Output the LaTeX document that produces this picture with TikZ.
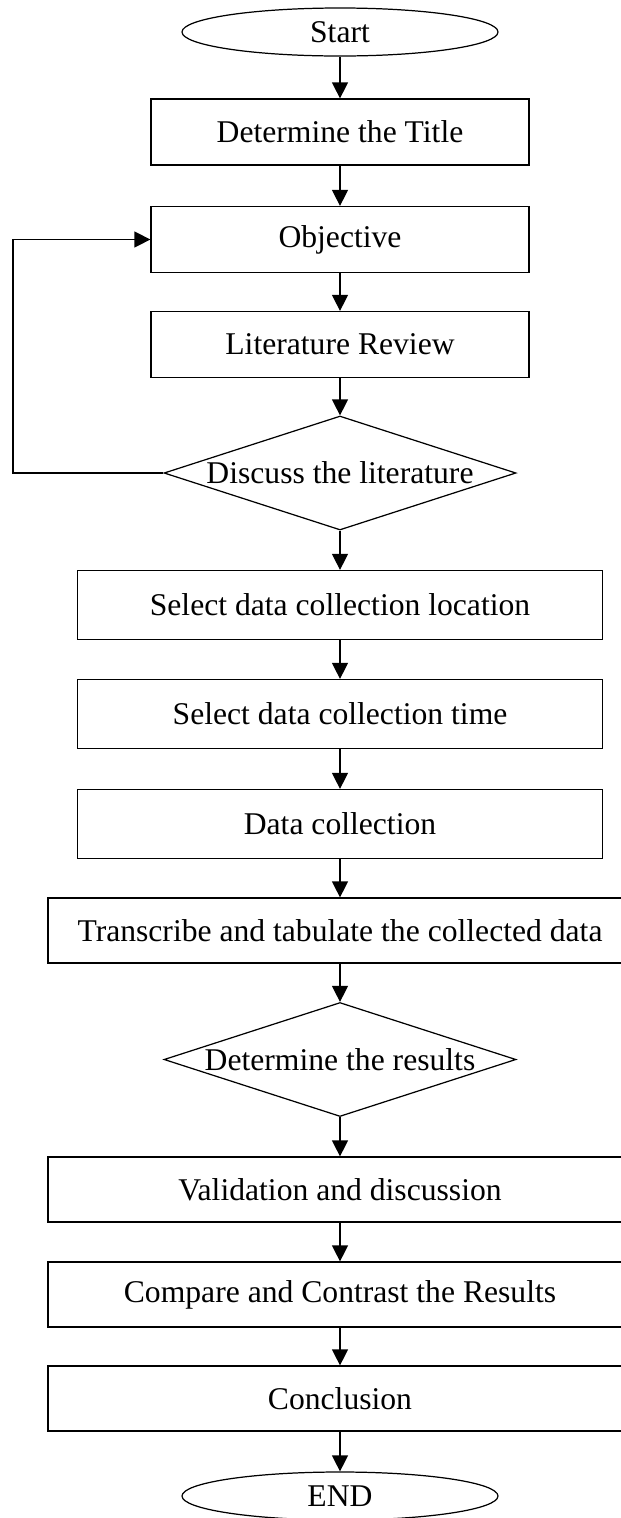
\documentclass[tikz,border=0pt]{standalone}
\usepackage{fontspec}
\setmainfont{Liberation Serif}
\usepackage{tikz}
\usetikzlibrary{arrows,arrows.meta,positioning,shapes}
\tikzstyle{every node}=[font=\fontsize{18}{22}\selectfont]
\tikzstyle{process}=[rectangle, draw=black, line width=0.7pt, minimum height=1.32cm, inner sep=2pt]
\tikzstyle{decision}=[diamond, draw=black, line width=0.7pt, minimum width=7.04cm, minimum height=2.28cm, inner sep=0pt]
\tikzstyle{terminal}=[ellipse, draw=black, line width=0.7pt, minimum width=6.32cm, minimum height=0.96cm, inner sep=0pt]

\begin{document}
\begin{tikzpicture}[->, >={Triangle[length=3.2mm, width=3.2mm]}, line width=0.7pt]
		
		\useasboundingbox (0, 0) rectangle (12.42, -30.36);
		
		\node[terminal] at (6.8, -0.64) (st) {Start};
		
		\node[process, minimum width=7.56cm] at (6.8, -2.64) (tt) {Determine the Title};
		
		\node[process, minimum width=7.56cm] at (6.8, -4.79) (obj) {Objective};
		
		\node[process, minimum width=7.56cm] at (6.8, -6.89) (lit) {Literature Review};
		
		\node[decision, label=center:{Discuss the literature}] at (6.8, -9.46) (disc) {};
		
		\node[process, minimum width=10.5cm, minimum height=1.38cm] at (6.8, -12.1) (loc) {Select data collection location};
		
		\node[process, minimum width=10.5cm, minimum height=1.38cm] at (6.8, -14.28) (time) {Select data collection time};
		
		\node[process, minimum width=10.5cm, minimum height=1.38cm] at (6.8, -16.48) (coll) {Data collection};
		
		\node[process, minimum width=11.68cm, minimum height=1.3cm] at (6.8, -18.61) (trans) {Transcribe and tabulate the collected data};
		
		\node[decision, label=center:{Determine the results}] at (6.8, -21.19) (res) {};
		
		\node[process, minimum width=11.68cm, minimum height=1.3cm] at (6.8, -23.79) (valid) {Validation and discussion};
		
		\node[process, minimum width=11.68cm, minimum height=1.3cm] at (6.8, -25.89) (comp) {Compare and Contrast the Results};
		
		\node[process, minimum width=11.68cm, minimum height=1.3cm] at (6.8, -27.97) (concl) {Conclusion};
		
		\node[terminal] at (6.8, -29.92) (end) {END};
		
		\coordinate (fb) at (0.26, -9.46);
		
		\path (st) edge (tt);
		\path (tt) edge (obj);
		\path (obj) edge (lit);
		\path (lit) edge (disc);
		\path (disc) edge (loc);
		\path (loc) edge (time);
		\path (time) edge (coll);
		\path (coll) edge (trans);
		\path (trans) edge (res);
		\path (res) edge (valid);
		\path (valid) edge (comp);
		\path (comp) edge (concl);
		\path (concl) edge (end);
		\draw (disc.west) -- (fb) |- (obj.west);
		
		\end{tikzpicture}
\end{document}
